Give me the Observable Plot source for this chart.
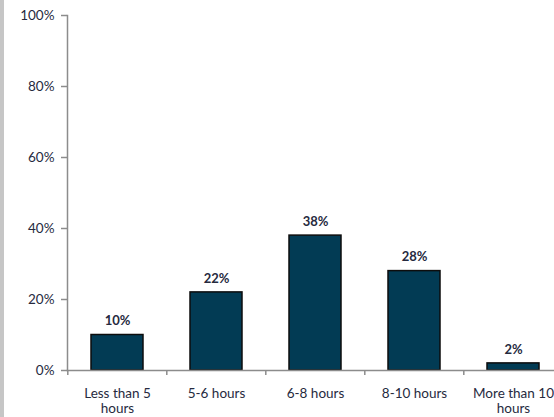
<!DOCTYPE html>
<html>
<head>
<meta charset="utf-8">
<script src="https://cdn.jsdelivr.net/npm/d3@7"></script>
<script src="https://cdn.jsdelivr.net/npm/@observablehq/plot@0.6"></script>
<style>
  html, body { margin: 0; padding: 0; overflow: hidden; background: #fff; width: 554px; height: 417px; }
  #wrap { position: relative; width: 554px; height: 417px; overflow: hidden; }
  #stripe { position: absolute; left: 0; top: 0; width: 4px; height: 417px; background: #c6c6c6; }
  #chart { position: absolute; left: 0; top: 0; width: 564px; }
  #chart svg { max-width: none !important; }
</style>
</head>
<body>
<div id="wrap"><div id="chart"></div><div id="stripe"></div></div>
<script>
const categories = ["Less than 5 hours", "5-6 hours", "6-8 hours", "8-10 hours", "More than 10 hours"];
const tickLabels = ["Less than 5\nhours", "5-6 hours", "6-8 hours", "8-10 hours", "More than 10\nhours"];
const values = [0.10, 0.22, 0.38, 0.28, 0.02];
const yTicks = [0, 0.2, 0.4, 0.6, 0.8, 1.0];

const data = categories.map((c, i) => ({category: c, value: values[i]}));

const W = 564, ML = 67, MR = 0;
const step = (W - ML - MR) / categories.length;
const textColor = "#262a3e";
const axisColor = "#8c8c8c";

const chart = Plot.plot({
  width: W,
  height: 417,
  marginLeft: ML,
  marginRight: MR,
  marginTop: 15,
  marginBottom: 47,
  style: {fontFamily: "Lato, 'Liberation Sans', sans-serif", fontSize: "13.5px", color: textColor, background: "transparent", maxWidth: "none"},
  x: {domain: categories, paddingInner: 0.47, paddingOuter: 0.235, label: null},
  y: {domain: [0, 1], label: null},
  marks: [
    Plot.barY(data, {x: "category", y: "value", fill: "#023b54", stroke: "#0d0d0d", strokeWidth: 1.5}),
    Plot.text(data, {x: "category", y: "value", text: d => Math.round(d.value * 100) + "%", dy: -14, lineAnchor: "middle", fontWeight: "bold", fill: textColor, fontSize: 13}),
    Plot.frame({anchor: "left", stroke: axisColor, strokeWidth: 1.5}),
    Plot.frame({anchor: "bottom", stroke: axisColor, strokeWidth: 1.5}),
    Plot.axisY({ticks: yTicks, tickFormat: d => Math.round(d * 100) + "%", tickSize: 6, tickPadding: 7, stroke: axisColor, strokeWidth: 1.5, fill: textColor, label: null}),
    Plot.axisX({ticks: categories, tickFormat: () => "", tickSize: 5, dx: -step / 2, stroke: axisColor, strokeWidth: 1.5, label: null}),
    Plot.axisX({ticks: categories, tickFormat: (d, i) => tickLabels[categories.indexOf(d)], tickSize: 0, tickPadding: 16, lineHeight: 1.15, fill: textColor, label: null})
  ]
});
document.getElementById("chart").appendChild(chart);
</script>
</body>
</html>
